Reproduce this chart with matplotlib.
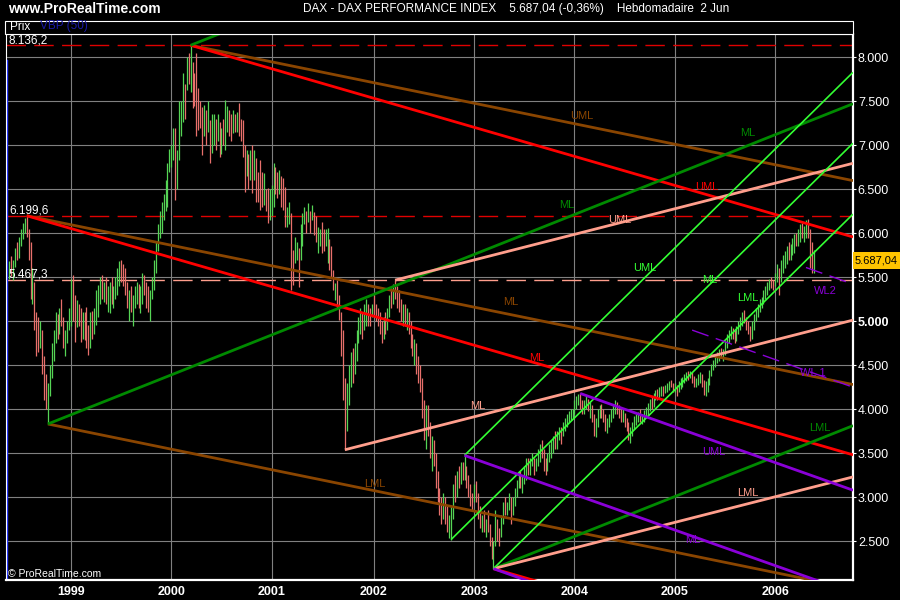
import numpy as np
import pandas as pd
import matplotlib
matplotlib.use("Agg")
import matplotlib.pyplot as plt
from matplotlib.patches import Rectangle

plt.rcParams['font.family'] = ['Liberation Sans', 'DejaVu Sans']
plt.rcParams['lines.scale_dashes'] = False

# weekly bars, first week starts Monday 25 May 1998
start_week = "1998-05-25"

lo_1998 = [5480, 5520, 5470, 5620, 5700, 5720, 5850, 5930, 6000, 5960, 5700, 5250, 5200, 4900, 4600, 4650,
           4700, 4400, 4100, 4000, 3833, 4150, 4350, 4550, 4750, 4800, 4850, 4950, 4700, 4600, 4750, 4900]
hi_1998 = [5690, 5740, 5700, 5830, 5900, 5960, 6050, 6120, 6170, 6199.6, 6050, 5900, 5600, 5450, 5100, 5050,
           5000, 4900, 4600, 4400, 4300, 4500, 4750, 4900, 5100, 5080, 5150, 5250, 5050, 4900, 5000, 5150]
cl_1998 = [5650, 5560, 5680, 5800, 5760, 5930, 6020, 6090, 6150, 6010, 5750, 5400, 5500, 5000, 4900, 4800,
           4850, 4500, 4200, 4150, 4200, 4450, 4700, 4850, 5050, 4900, 5100, 5050, 4750, 4850, 4950, 5000]

lo_1999 = [4950, 5000, 4770, 4930, 4950, 4770, 4800, 4790, 4700, 4620, 4700, 4800, 4850, 4960, 5050, 5200,
           5250, 5220, 5200, 5100, 5095, 5200, 5150, 5250, 5300, 5400, 5450, 5400, 5300, 5150, 5000, 5100,
           4950, 5150, 5200, 5150, 5090, 5200, 5300, 5150, 5100, 5000, 5250, 5350, 5550, 5800, 5950, 6000,
           6150, 6250, 6300, 6700]
hi_1999 = [5480, 5530, 5300, 5240, 5200, 5150, 5100, 5100, 5160, 4960, 5100, 5120, 5150, 5350, 5410, 5500,
           5530, 5450, 5500, 5400, 5450, 5500, 5400, 5500, 5600, 5680, 5700, 5650, 5600, 5450, 5350, 5400,
           5300, 5400, 5450, 5420, 5400, 5550, 5530, 5450, 5400, 5350, 5500, 5700, 5900, 6100, 6250, 6350,
           6450, 6600, 6800, 6960]
cl_1999 = [5300, 5050, 4850, 5150, 5000, 4850, 5000, 4950, 4750, 4700, 5050, 4900, 5100, 5250, 5300, 5450,
           5300, 5400, 5250, 5300, 5400, 5300, 5350, 5450, 5500, 5600, 5550, 5450, 5350, 5200, 5300, 5150,
           5250, 5300, 5380, 5200, 5350, 5450, 5350, 5200, 5150, 5300, 5450, 5650, 5850, 6050, 6200, 6300,
           6400, 6550, 6750, 6950]

lo_2000 = [6750, 6830, 6380, 6500, 6830, 7100, 7260, 7300, 7630, 7700, 7600, 7420, 7450, 7100, 7170, 7200,
           6890, 7100, 7000, 7150, 6800, 6910, 7000, 6950, 7050, 6870, 6900, 7000, 6950, 7150, 7100, 7050,
           7140, 7150, 7150, 7100, 7050, 6870, 6470, 6650, 6500, 6600, 6460, 6600, 6350, 6350, 6270, 6300,
           6320, 6250, 6120, 6150]
hi_2000 = [7000, 7200, 7200, 6950, 7500, 7500, 7820, 7700, 8000, 8050, 8136.2, 7950, 7820, 8050, 7650, 7500,
           7430, 7460, 7400, 7500, 7290, 7360, 7350, 7300, 7350, 7270, 7200, 7300, 7520, 7450, 7400, 7350,
           7400, 7350, 7380, 7480, 7300, 7290, 7000, 6950, 6900, 6950, 7000, 6950, 6850, 6700, 6830, 6700,
           6680, 6500, 6520, 6500]
cl_2000 = [6990, 7050, 6600, 6850, 7400, 7450, 7700, 7550, 7950, 7900, 8000, 7600, 7500, 7300, 7250, 7230,
           7000, 7300, 7100, 7400, 6900, 7200, 7250, 7100, 7250, 6950, 7100, 7050, 7400, 7420, 7200, 7100,
           7350, 7250, 7300, 7200, 7100, 6950, 6600, 6850, 6650, 6900, 6550, 6800, 6500, 6450, 6400, 6350,
           6600, 6300, 6250, 6430]

lo_2001 = [6200, 6300, 6450, 6400, 6450, 6300, 6270, 6070, 6070, 6100, 5355, 5410, 5660, 5700, 5390, 5700,
           5850, 6110, 6000, 6130, 6000, 6150, 5980, 5900, 5780, 5850, 5780, 5800, 5850, 5660, 5580, 5500,
           5360, 5240, 5150, 5015, 4600, 4100, 3540, 3750, 4050, 4250, 4300, 4400, 4550, 4750, 4850, 4800,
           4900, 4950, 4950, 4950, 5050]
hi_2001 = [6550, 6800, 6750, 6700, 6720, 6650, 6630, 6530, 6300, 6350, 6230, 5810, 5960, 5900, 5830, 6100,
           6230, 6300, 6250, 6340, 6250, 6320, 6240, 6200, 6070, 6050, 6130, 6050, 6050, 6060, 5940, 5850,
           5580, 5430, 5470, 5300, 5100, 4900, 4350, 4300, 4500, 4650, 4700, 4750, 4900, 5050, 5150, 5100,
           5200, 5250, 5200, 5150, 5200]
cl_2001 = [6500, 6700, 6550, 6450, 6500, 6350, 6300, 6100, 6250, 6300, 5500, 5450, 5850, 5880, 5600, 6050,
           6200, 6250, 6050, 6300, 6100, 6250, 6000, 5950, 6000, 6000, 5850, 5830, 5900, 5950, 5650, 5550,
           5400, 5420, 5200, 5100, 4700, 4200, 3800, 4200, 4450, 4600, 4400, 4700, 4850, 5000, 5100, 4950,
           5150, 5200, 5000, 4990, 5160]

lo_2002 = [5050, 5000, 4950, 4850, 4750, 4800, 4850, 4900, 5050, 5150, 5200, 5250, 5150, 5100, 5000, 4950,
           4950, 4900, 4850, 4700, 4600, 4500, 4400, 4300, 4200, 3900, 3650, 3550, 3700, 3450, 3300, 3350,
           3100, 2950, 2800, 2700, 2750, 2700, 2600, 2540, 2519, 2750, 2950, 3000, 3100, 3150, 3200, 3200,
           3100, 3000, 2900, 2850]
hi_2002 = [5300, 5200, 5150, 5100, 5000, 5050, 5100, 5150, 5300, 5380, 5420, 5467.3, 5400, 5350, 5250, 5200,
           5200, 5150, 5100, 5000, 4850, 4800, 4750, 4600, 4500, 4350, 4100, 4050, 4050, 3850, 3700, 3650,
           3500, 3300, 3100, 3000, 3050, 3000, 2900, 2800, 2900, 3150, 3250, 3300, 3350, 3400, 3400, 3476,
           3350, 3250, 3150, 3050]
cl_2002 = [5150, 5050, 5000, 4900, 4800, 5000, 4900, 5100, 5250, 5200, 5350, 5300, 5250, 5150, 5050, 5150,
           5000, 5050, 4900, 4750, 4650, 4700, 4500, 4400, 4250, 4000, 3700, 3950, 3800, 3500, 3600, 3450,
           3200, 3000, 2850, 2770, 2950, 2800, 2650, 2700, 2850, 3100, 3050, 3250, 3200, 3350, 3250, 3300,
           3150, 3050, 2950, 2900]

lo_2003 = [2950, 2950, 2750, 2650, 2600, 2600, 2550, 2600, 2450, 2300, 2188.8, 2450, 2500, 2450, 2550, 2700,
           2800, 2800, 2850, 2700, 2800, 2900, 3000, 3100, 3100, 3050, 3150, 3200, 3250, 3250, 3350, 3250,
           3300, 3350, 3400, 3450, 3300, 3250, 3300, 3400, 3450, 3500, 3550, 3550, 3650, 3600, 3700, 3750,
           3800, 3850, 3880, 3900]
hi_2003 = [3150, 3180, 3050, 2900, 2800, 2850, 2750, 2850, 2700, 2550, 2500, 2850, 2750, 2650, 2800, 2950,
           3000, 2950, 3050, 3000, 3000, 3100, 3200, 3300, 3300, 3250, 3350, 3450, 3450, 3450, 3500, 3450,
           3450, 3550, 3600, 3650, 3550, 3450, 3500, 3600, 3650, 3700, 3750, 3750, 3800, 3800, 3850, 3900,
           3950, 3980, 4000, 4000]
cl_2003 = [3100, 3000, 2800, 2700, 2750, 2650, 2700, 2620, 2500, 2350, 2450, 2700, 2550, 2500, 2750, 2900,
           2850, 2900, 3000, 2800, 2950, 3050, 3150, 3250, 3150, 3200, 3300, 3400, 3300, 3400, 3450, 3300,
           3400, 3500, 3550, 3500, 3350, 3300, 3450, 3550, 3600, 3650, 3600, 3700, 3750, 3650, 3800, 3850,
           3900, 3950, 3960, 3965]

lo_2004 = [3950, 4000, 4050, 4000, 3950, 3950, 4000, 3980, 3900, 3850, 3700, 3690, 3800, 3900, 3900, 3850,
           3750, 3730, 3800, 3850, 3900, 3950, 3950, 3900, 3850, 3850, 3800, 3750, 3650, 3620, 3700, 3780,
           3820, 3850, 3850, 3830, 3850, 3900, 3920, 3980, 4000, 4030, 4100, 4100, 4120, 4150, 4150, 4180,
           4200, 4220, 4250, 4200]
hi_2004 = [4100, 4150, 4170, 4180, 4100, 4100, 4150, 4120, 4080, 4050, 3950, 3900, 4000, 4050, 4060, 4000,
           3950, 3900, 3950, 4000, 4050, 4100, 4080, 4050, 4000, 4000, 3960, 3900, 3850, 3800, 3850, 3920,
           3950, 3970, 4000, 3950, 3990, 4030, 4070, 4120, 4150, 4180, 4220, 4230, 4250, 4270, 4260, 4280,
           4300, 4320, 4330, 4300]
cl_2004 = [4050, 4100, 4150, 4050, 4000, 4080, 4100, 4000, 4050, 3900, 3750, 3850, 3950, 4000, 3950, 3900,
           3800, 3850, 3900, 3950, 4000, 4050, 4000, 3950, 3900, 3950, 3850, 3800, 3700, 3750, 3800, 3880,
           3900, 3950, 3880, 3900, 3950, 3980, 4050, 4100, 4050, 4150, 4200, 4150, 4230, 4250, 4200, 4250,
           4270, 4300, 4280, 4250]

lo_2005 = [4200, 4150, 4200, 4230, 4250, 4300, 4320, 4330, 4350, 4300, 4250, 4250, 4280, 4300, 4250, 4160,
           4150, 4200, 4280, 4380, 4450, 4480, 4530, 4550, 4580, 4550, 4620, 4700, 4750, 4800, 4800, 4750,
           4780, 4850, 4900, 4950, 4980, 4900, 4850, 4780, 4800, 4900, 5000, 5050, 5100, 5150, 5200, 5250,
           5300, 5350, 5380, 5350]
hi_2005 = [4300, 4280, 4320, 4350, 4370, 4400, 4420, 4430, 4440, 4420, 4380, 4360, 4400, 4420, 4400, 4330,
           4320, 4350, 4450, 4520, 4560, 4600, 4650, 4680, 4700, 4680, 4780, 4850, 4900, 4950, 4920, 4900,
           4950, 5000, 5050, 5100, 5130, 5050, 5000, 4950, 5000, 5080, 5150, 5200, 5250, 5280, 5350, 5400,
           5450, 5480, 5500, 5470]
cl_2005 = [4250, 4200, 4280, 4300, 4350, 4350, 4400, 4380, 4400, 4330, 4300, 4340, 4370, 4380, 4270, 4200,
           4250, 4300, 4400, 4480, 4500, 4570, 4600, 4650, 4600, 4650, 4750, 4800, 4850, 4880, 4850, 4800,
           4900, 4950, 5000, 5050, 5000, 4950, 4900, 4850, 4950, 5050, 5100, 5150, 5200, 5250, 5300, 5350,
           5400, 5450, 5420, 5410]

lo_2006 = [5400, 5450, 5300, 5450, 5550, 5600, 5650, 5700, 5700, 5750, 5780, 5850, 5850, 5900, 5950, 5900,
           5950, 5950, 5600, 5550, 5550]
hi_2006 = [5550, 5650, 5610, 5700, 5750, 5800, 5850, 5900, 5880, 5950, 5990, 6000, 6050, 6100, 6120, 6080,
           6150, 6160, 6050, 5900, 5810]
cl_2006 = [5500, 5600, 5500, 5650, 5700, 5750, 5800, 5750, 5850, 5900, 5950, 5900, 6000, 6050, 6000, 6050,
           6100, 6000, 5650, 5600, 5687.04]

lows = lo_1998 + lo_1999 + lo_2000 + lo_2001 + lo_2002 + lo_2003 + lo_2004 + lo_2005 + lo_2006
highs = hi_1998 + hi_1999 + hi_2000 + hi_2001 + hi_2002 + hi_2003 + hi_2004 + hi_2005 + hi_2006
closes = cl_1998 + cl_1999 + cl_2000 + cl_2001 + cl_2002 + cl_2003 + cl_2004 + cl_2005 + cl_2006

# pivots: (week index, price)
p_jul98 = (9, 6199.6)
p_oct98 = (20, 3833.0)
p_mar00 = (94, 8136.2)
p_sep01 = (174, 3540.0)
p_mar02 = (200, 5467.3)
p_oct02 = (229, 2519.0)
p_dec02 = (236, 3476.0)
p_mar03 = (251, 2188.8)
p_jan04 = (296, 4180.0)

BROWN = '#8a4500'
RED = '#ff0000'
DKGREEN = '#008a00'
SALMON = '#ff9e8c'
LIME = '#33ff33'
PURPLE = '#8a00d8'

# pitchforks: A, B, C, colour, width
forks = [
    (p_jul98, p_oct98, p_mar00, BROWN, 2.0),
    (p_jul98, p_mar00, p_mar03, RED, 2.0),
    (p_oct98, p_mar00, p_mar03, DKGREEN, 2.0),
    (p_sep01, p_mar02, p_mar03, SALMON, 2.0),
    (p_oct02, p_dec02, p_mar03, LIME, 1.2),
    (p_dec02, p_mar03, p_jan04, PURPLE, 2.0),
]

# warning lines on the purple fork: (multiple of fork width, start week)
warning_lines = [(1, 354), (2, 413)]

fork_labels = [
    ('UML', 296.8, 7332, BROWN), ('ML', 260, 5219, BROWN), ('LML', 189.6, 3151, BROWN),
    ('UML', 361.7, 6526, RED), ('ML', 273.6, 4583, RED),
    ('ML', 289.1, 6322, DKGREEN), ('ML', 382.9, 7140, DKGREEN), ('LML', 420.3, 3787, DKGREEN),
    ('ML', 243, 4037, SALMON), ('UML', 316.6, 6151, SALMON), ('LML', 382.9, 3049, SALMON),
    ('UML', 329.5, 5606, LIME), ('ML', 363.3, 5469, LIME), ('LML', 382.9, 5265, LIME),
    ('UML', 365.3, 3515, PURPLE), ('ML', 354.4, 2515, PURPLE),
    ('WL 1', 416.7, 4413, PURPLE), ('WL2', 422.9, 5345, PURPLE),
]

levels = [(8136.2, '8.136,2', '#e00000'), (6199.6, '6.199,6', '#e00000'), (5467.3, '5.467,3', SALMON)]
y_ticks = [2500, 3000, 3500, 4000, 4500, 5000, 5500, 6000, 6500, 7000, 7500, 8000]
last_price = '5.687,04'

x_min, x_max = -1.71, 437.4
y_min, y_max = 2060, 8270

# ---------------------------------------------------------------
fig = plt.figure(figsize=(9, 6), dpi=100, facecolor='black')
ax = fig.add_axes([6 / 900, 20 / 600, 847 / 900, 546.5 / 600])
ax.set_facecolor('black')
ax.set_xlim(x_min, x_max)
ax.set_ylim(y_min, y_max)

x = np.arange(len(closes))
weeks = pd.date_range(start_week, periods=len(closes), freq='W-MON')
year_list = list(range(1999, 2007))
year_pos = [int(np.argmax(weeks.year >= y)) for y in year_list]

# grid
for yp in year_pos:
    ax.axvline(yp, color='#808080', lw=0.8, zorder=0)
for yt in y_ticks:
    ax.axhline(yt, color='#808080', lw=0.8, zorder=0)

# price levels
for val, txt, col in levels:
    ax.axhline(val, color=col, lw=1.0, dashes=(14, 6), zorder=1)
    ax.text(-0.2, val + 25, txt, color='white', fontsize=8.5, ha='left', va='baseline', zorder=5)

# VBP line at left
ax.plot([-1.0, -1.0], [y_min, 7970], color='#2030ff', lw=1.0, zorder=1)

# bars
cl = np.array(closes)
prev = np.concatenate([[cl[0]], cl[:-1]])
cols = np.where(cl >= prev, '#55d455', '#e8706c')
ax.vlines(x, lows, highs, colors=cols, lw=0.9, zorder=2)

# pitchforks
purple_slope = None
for a, b, c, col, lw in forks:
    mid = ((b[0] + c[0]) / 2, (b[1] + c[1]) / 2)
    slope = (mid[1] - a[1]) / (mid[0] - a[0])
    for p in (a, b, c):
        ax.plot([p[0], x_max], [p[1], p[1] + slope * (x_max - p[0])], color=col, lw=lw,
                solid_capstyle='butt', zorder=3)
    if col == PURPLE:
        purple_slope = slope
        pa, pc = a, c

width = pc[1] - pa[1] - purple_slope * (pc[0] - pa[0])
for k, x0 in warning_lines:
    y0 = pc[1] + purple_slope * (x0 - pc[0]) + k * width
    y1 = pc[1] + purple_slope * (x_max - pc[0]) + k * width
    ax.plot([x0, x_max], [y0, y1], color=PURPLE, lw=1.0, dashes=(12.5, 5.5), zorder=3)

for txt, lx, ly, col in fork_labels:
    ax.text(lx, ly, txt, color=col, fontsize=8, ha='center', va='center', zorder=4)

# axes styling
for s in ['left', 'top']:
    ax.spines[s].set_color('white')
    ax.spines[s].set_linewidth(0.8)
for s in ['right', 'bottom']:
    ax.spines[s].set_color('white')
    ax.spines[s].set_linewidth(1.6)

ax.yaxis.tick_right()
ax.set_yticks(y_ticks)
ax.set_yticklabels([f"{v:,.0f}".replace(',', '.') for v in y_ticks])
ax.tick_params(axis='y', colors='white', length=2, pad=1.5, labelsize=9)
for lab in ax.get_yticklabels():
    if lab.get_text() == '5.000':
        lab.set_fontweight('bold')
ax.set_xticks(year_pos)
ax.set_xticklabels([str(y) for y in year_list], fontweight='bold')
ax.tick_params(axis='x', colors='white', length=0, pad=4, labelsize=9)

# header
fig.patches.append(Rectangle((5 / 900, 1 - 33.5 / 600), 848 / 900, 13 / 600, transform=fig.transFigure,
                             facecolor='black', edgecolor='white', lw=0.8))
fig.text(10 / 900, 1 - 26.5 / 600, 'Prix', color='white', fontsize=8.5, va='center')
fig.text(40 / 900, 1 - 26.5 / 600, 'VBP (50)', color='#1a1aa8', fontsize=8.5, va='center')
fig.text(8 / 900, 1 - 9 / 600, 'www.ProRealTime.com', color='white', fontsize=10, fontweight='bold', va='center')
fig.text(516 / 900, 1 - 9 / 600, 'DAX - DAX PERFORMANCE INDEX    5.687,04 (-0,36%)    Hebdomadaire  2 Jun',
         color='white', fontsize=8.5, ha='center', va='center')
fig.text(8 / 900, 1 - 574 / 600, '\u00a9 ProRealTime.com', color='white', fontsize=7.5, va='center')

# last price tag
fig.patches.append(Rectangle((853 / 900, 1 - 269 / 600), 47 / 900, 17 / 600, transform=fig.transFigure,
                             facecolor='#ffc400', edgecolor='none'))
fig.text(876.5 / 900, 1 - 260.5 / 600, last_price, color='black', fontsize=8, ha='center', va='center')

fig.savefig('out.png', dpi=100, facecolor='black')
